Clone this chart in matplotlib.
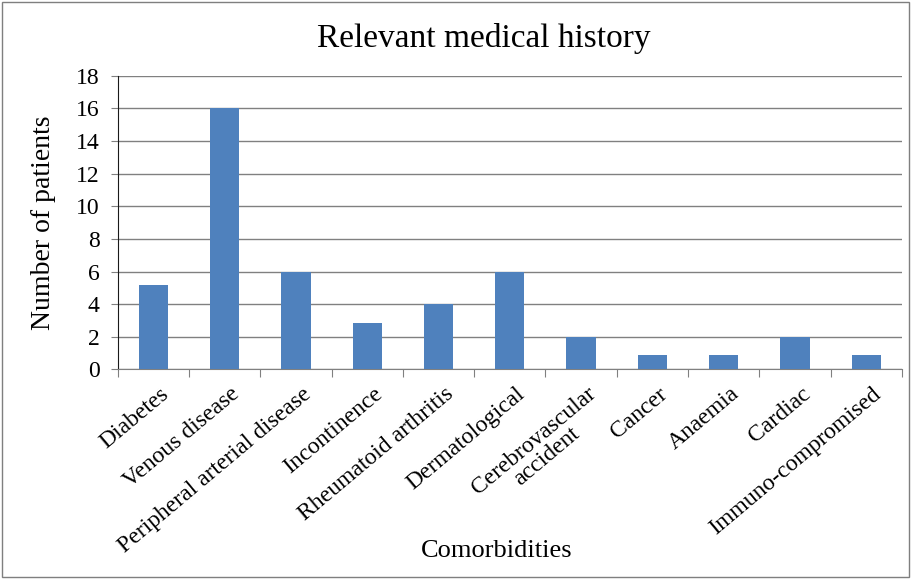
import numpy as np
import matplotlib.pyplot as plt
from matplotlib.patches import Rectangle

categories = ['Diabetes', 'Venous disease', 'Peripheral arterial disease',
              'Incontinence', 'Rheumatoid arthritis', 'Dermatological',
              'Cerebrovascular\naccident', 'Cancer', 'Anaemia', 'Cardiac',
              'Immuno-compromised']
patients = [5.2, 16, 6, 2.85, 4, 6, 2, 0.9, 0.9, 2, 0.9]
yticks = [0, 2, 4, 6, 8, 10, 12, 14, 16, 18]

plt.rcParams['font.family'] = ['Liberation Serif', 'DejaVu Serif']

fig = plt.figure(figsize=(9.12, 5.79), dpi=100)
ax = fig.add_axes([0.129, 0.362, 0.860, 0.507])

x = np.arange(len(categories))
ax.bar(x, patients, width=0.41, color='#4f81bd', zorder=3)

ax.set_xlim(-0.5, len(categories) - 0.5)
ax.set_ylim(0, 18)
ax.set_yticks(yticks)
ax.yaxis.grid(True, color='#808080', linewidth=1, zorder=0)

# category boundary ticks, Excel style
ax.set_xticks(np.arange(len(categories) + 1) - 0.5)
ax.set_xticklabels([])
ax.tick_params(axis='x', length=6, color='#808080', direction='out')
ax.set_xticks(x + 0.08, minor=True)
ax.set_xticklabels(categories, minor=True, rotation=40, ha='right',
                   rotation_mode='anchor', fontsize=17, multialignment='center',
                   linespacing=0.9)
ax.tick_params(axis='x', which='minor', length=0, pad=10)
ax.tick_params(axis='y', labelsize=17, length=5, color='#808080', pad=8)

for s in ['top', 'right']:
    ax.spines[s].set_visible(False)
ax.spines['left'].set_color('#1a1a1a')
ax.spines['bottom'].set_color('#808080')

ax.set_ylabel('Number of patients', fontsize=20, labelpad=14)
fig.text(0.545, 0.048, 'Comorbidities', ha='center', va='center', fontsize=19)
fig.text(0.53, 0.934, 'Relevant medical history', ha='center', va='center', fontsize=24)

fig.patches.append(Rectangle((0.002, 0.003), 0.995, 0.994, transform=fig.transFigure,
                             fill=False, edgecolor='#7f7f7f', linewidth=1))

fig.savefig('out.png', dpi=100)
